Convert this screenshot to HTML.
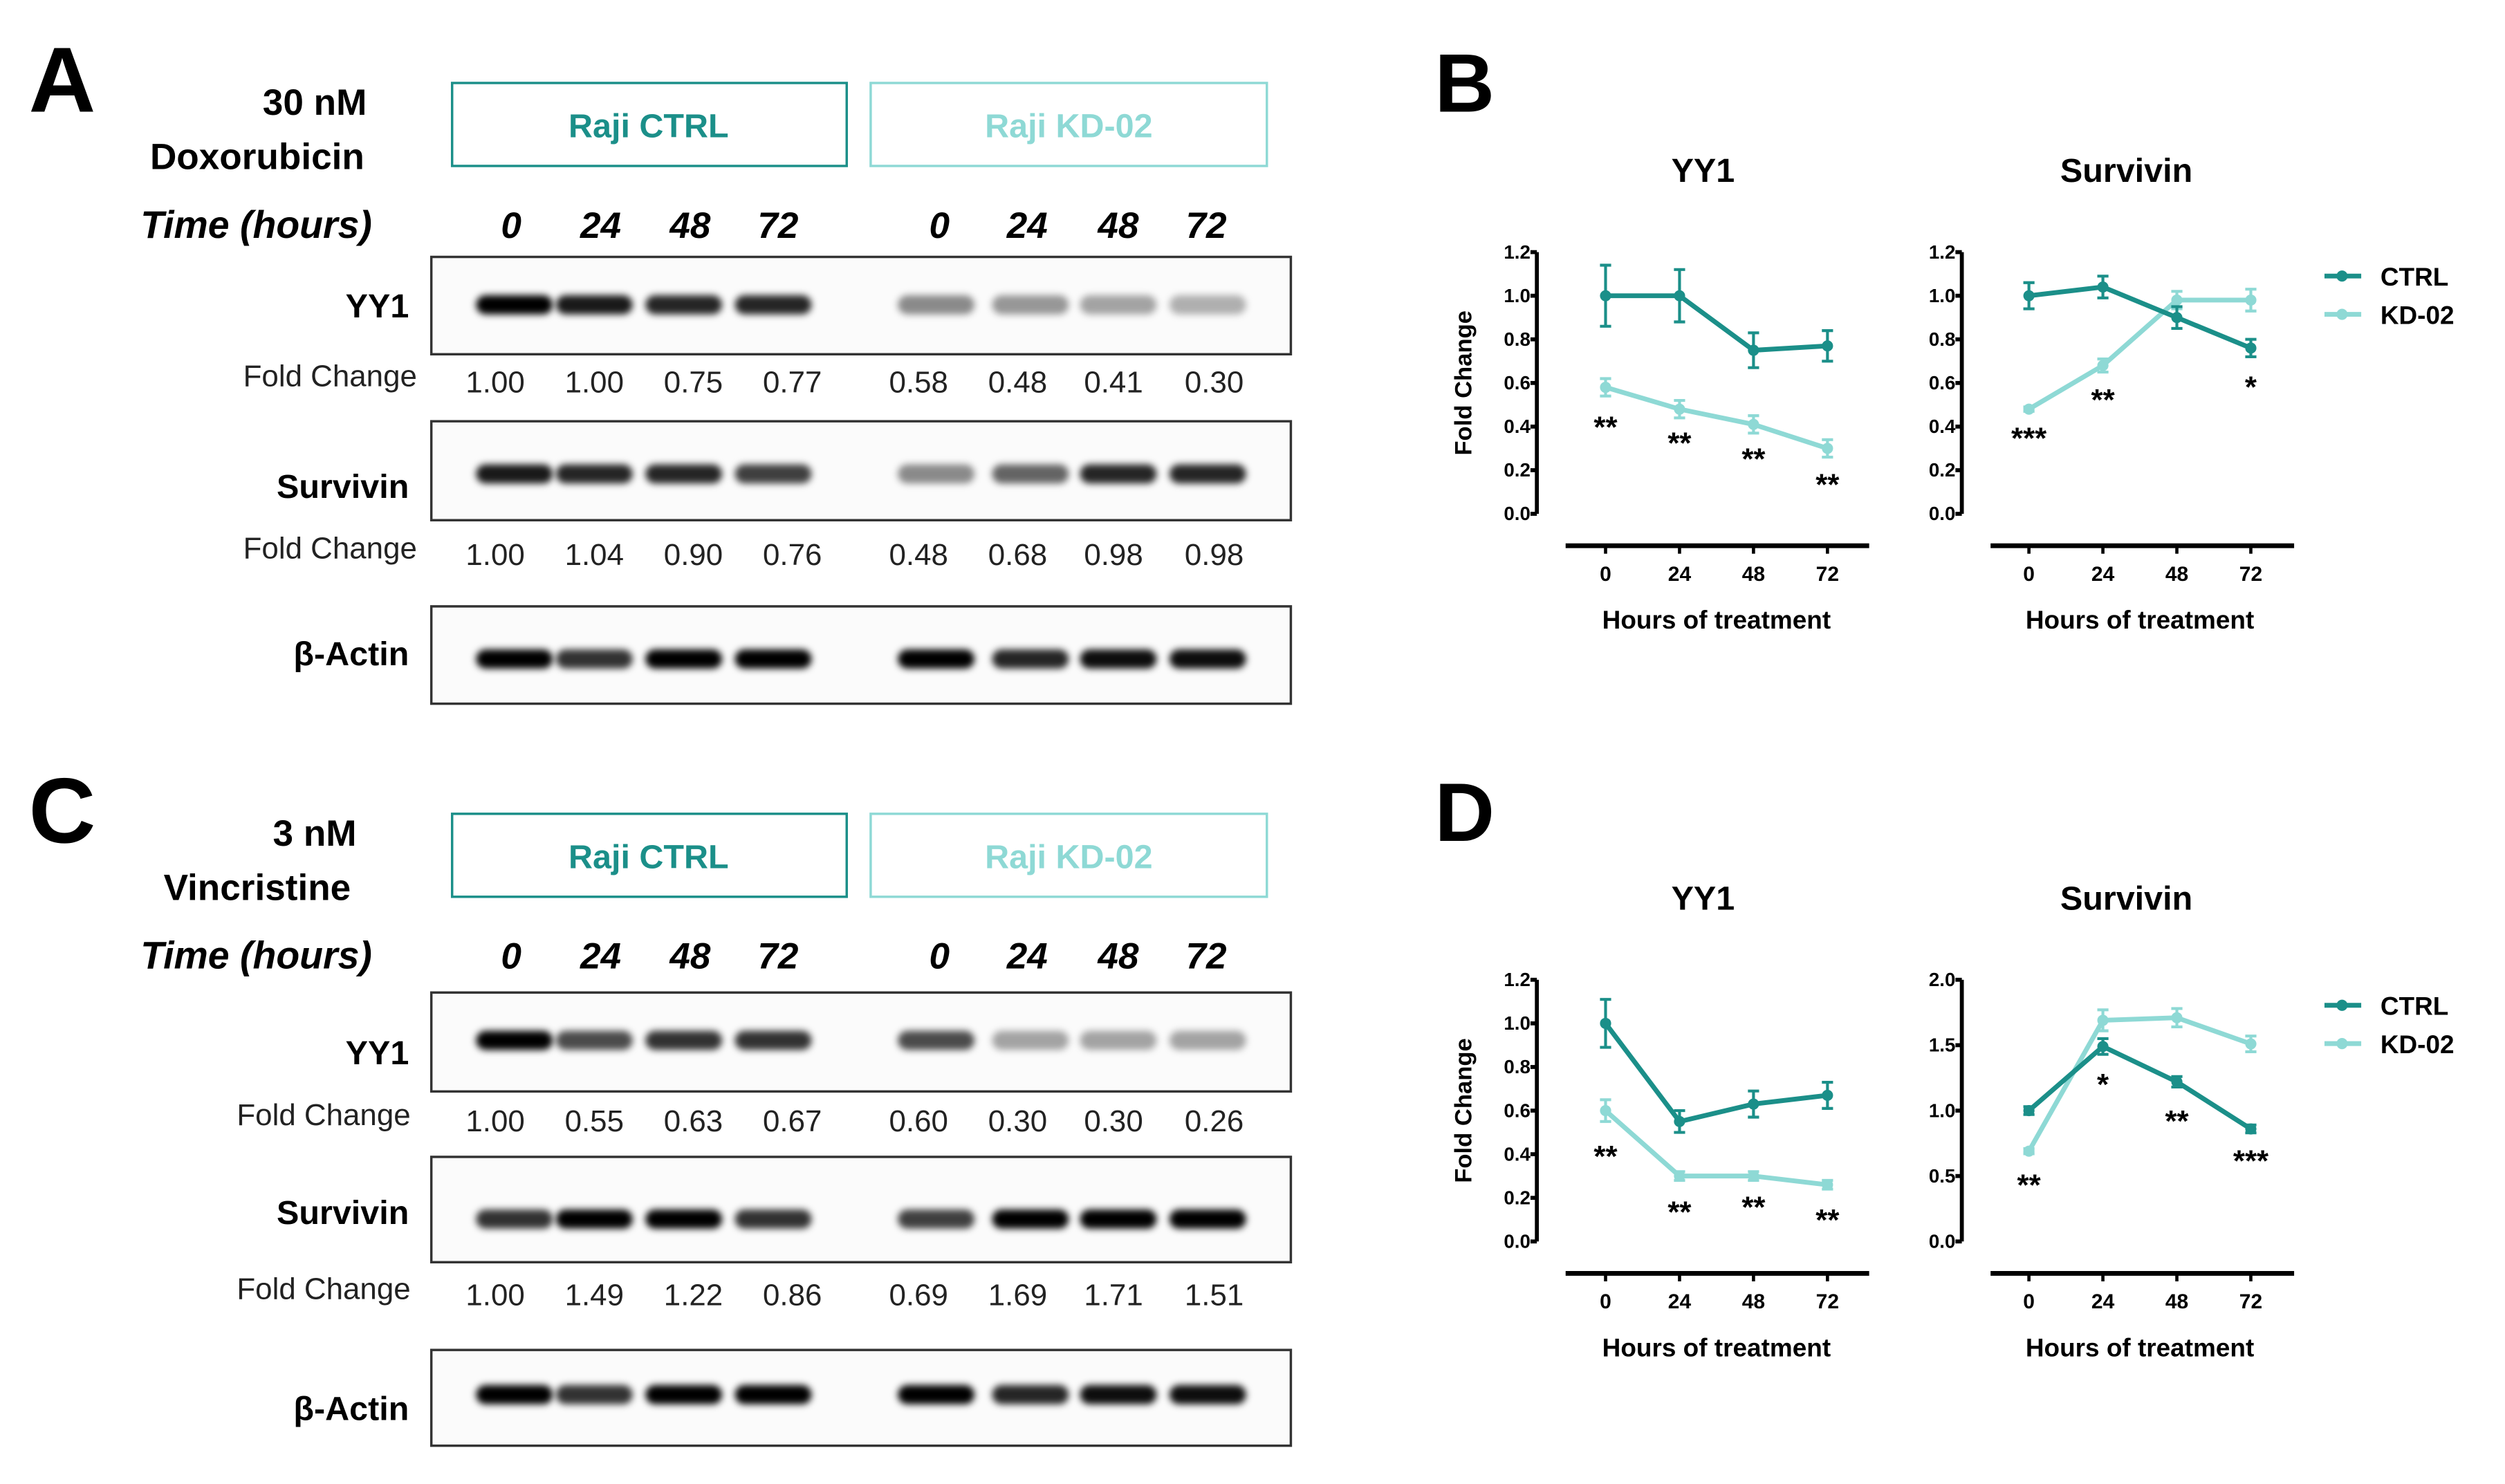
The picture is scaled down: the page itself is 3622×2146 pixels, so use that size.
<!DOCTYPE html>
<html><head><meta charset="utf-8"><style>
html,body{margin:0;padding:0;background:#fff}
svg{display:block}
text{font-family:"Liberation Sans",sans-serif}
</style></head><body>
<svg id="fig" width="3622" height="2146" viewBox="0 0 1568 930" preserveAspectRatio="none" xmlns="http://www.w3.org/2000/svg">
<defs>
<filter id="blur" x="-20%" y="-100%" width="140%" height="300%"><feGaussianBlur stdDeviation="2.2"/></filter>
</defs>
<g id="blots"></g>
<g id="charts"></g>
</svg>
<script>
// ---- chart data ----
const hours = [0, 24, 48, 72];
const bYY1Ctrl = [1.00, 1.00, 0.75, 0.77];
const bYY1CtrlErr = [0.14, 0.12, 0.08, 0.07];
const bYY1Kd = [0.58, 0.48, 0.41, 0.30];
const bYY1KdErr = [0.04, 0.04, 0.04, 0.04];
const bSurvCtrl = [1.00, 1.04, 0.90, 0.76];
const bSurvCtrlErr = [0.06, 0.05, 0.05, 0.04];
const bSurvKd = [0.48, 0.68, 0.98, 0.98];
const bSurvKdErr = [0.01, 0.03, 0.04, 0.05];
const dYY1Ctrl = [1.00, 0.55, 0.63, 0.67];
const dYY1CtrlErr = [0.11, 0.05, 0.06, 0.06];
const dYY1Kd = [0.60, 0.30, 0.30, 0.26];
const dYY1KdErr = [0.05, 0.02, 0.02, 0.02];
const dSurvCtrl = [1.00, 1.49, 1.22, 0.86];
const dSurvCtrlErr = [0.03, 0.06, 0.04, 0.03];
const dSurvKd = [0.69, 1.69, 1.71, 1.51];
const dSurvKdErr = [0.02, 0.08, 0.07, 0.06];
const ticks12 = ["0.0","0.2","0.4","0.6","0.8","1.0","1.2"];
const ticks20 = ["0.0","0.5","1.0","1.5","2.0"];
const bYY1Stars = ["**","**","**","**"];
const bSurvStars = ["***","**","","*"];
const dYY1Stars = ["**","**","**","**"];
const dSurvStars = ["**","*","**","***"];
// blot fold changes
const aYY1Fold = ["1.00","1.00","0.75","0.77","0.58","0.48","0.41","0.30"];
const aSurvFold = ["1.00","1.04","0.90","0.76","0.48","0.68","0.98","0.98"];
const cYY1Fold = ["1.00","0.55","0.63","0.67","0.60","0.30","0.30","0.26"];
const cSurvFold = ["1.00","1.49","1.22","0.86","0.69","1.69","1.71","1.51"];
const aYY1Int = [1,0.9,0.85,0.85,0.45,0.4,0.35,0.3];
const aSurvInt = [0.9,0.85,0.85,0.75,0.45,0.6,0.85,0.85];
const actInt = [1,0.8,1,1,1,0.85,0.95,0.95];
const cYY1Int = [1,0.7,0.8,0.8,0.7,0.35,0.35,0.35];
const cSurvInt = [0.8,1,1,0.8,0.75,1,1,1];

const NS="http://www.w3.org/2000/svg";
const CTRL="#1b8f89", KD="#8ed9d5";
function el(tag, attrs, parent, txt){
  const e=document.createElementNS(NS,tag);
  for(const k in attrs) e.setAttribute(k,attrs[k]);
  if(txt!==undefined) e.textContent=txt;
  parent.appendChild(e); return e;
}
const blots=document.getElementById('blots');
const charts=document.getElementById('charts');

const labelX=[320,376,432,487,588,643,700,755];
const foldX=[310,372,434,496,575,637,697,760];
const laneX=[322,372,428,484,586,645,700,756];
function blotBox(y,h,ints,bandY,name){
  const g=el('g',{},blots);
  
  
  el('rect',{x:270,y:y,width:538,height:h,fill:'#fbfbfb',stroke:'#333','stroke-width':1.5},g);
  ints.forEach((v,i)=>{
    const b=el('rect',{x:laneX[i]-24,y:bandY-6,width:48,height:12,rx:6,fill:`rgba(0,0,0,${v})`,filter:'url(#blur)'},g);
    
    
  });
}
function panel(ofs,letter,l1,l2,rows){
  const L=el('text',{x:18,y:ofs+70,'font-size':58,'font-weight':'bold'},blots,letter);
  
  
  el('text',{x:197,y:ofs+72,'font-size':23,'font-weight':'bold','text-anchor':'middle'},blots,l1);
  el('text',{x:161,y:ofs+106,'font-size':23,'font-weight':'bold','text-anchor':'middle'},blots,l2);
  el('rect',{x:283,y:ofs+52,width:247,height:52,fill:'none',stroke:CTRL,'stroke-width':1.5},blots);
  el('text',{x:406,y:ofs+86,'font-size':21,'font-weight':'bold','text-anchor':'middle',fill:CTRL},blots,'Raji CTRL');
  el('rect',{x:545,y:ofs+52,width:248,height:52,fill:'none',stroke:KD,'stroke-width':1.5},blots);
  el('text',{x:669,y:ofs+86,'font-size':21,'font-weight':'bold','text-anchor':'middle',fill:KD},blots,'Raji KD-02');
  el('text',{x:88,y:ofs+149,'font-size':24,'font-weight':'bold','font-style':'italic'},blots,'Time (hours)');
  ["0","24","48","72","0","24","48","72"].forEach((t,i)=>el('text',{x:labelX[i],y:ofs+149,'font-size':23,'font-weight':'bold','font-style':'italic','text-anchor':'middle'},blots,t));
  rows.forEach(r=>{
    blotBox(r.y,r.h,r.ints,r.band,r.name);
    el('text',{x:256,y:r.ly,'font-size':21,'font-weight':'bold','text-anchor':'end'},blots,r.label);
    if(r.fold){
      el('text',{x:r.fx,y:r.fy,'font-size':19,'text-anchor':'end',fill:'#222'},blots,'Fold Change');
      r.fold.forEach((v,i)=>el('text',{x:foldX[i],y:r.fy+4,'font-size':19,'text-anchor':'middle',fill:'#222'},blots,v));
    }
  });
}
panel(0,'A','30 nM','Doxorubicin',[
  {y:161,h:61,ints:aYY1Int,band:191,label:'YY1',ly:199,name:'blot-a-yy1',fold:aYY1Fold,fy:242,fx:261},
  {y:264,h:62,ints:aSurvInt,band:297,label:'Survivin',ly:312,name:'blot-a-survivin',fold:aSurvFold,fy:350,fx:261},
  {y:380,h:61,ints:actInt,band:413,label:'β-Actin',ly:417,name:'blot-a-actin'}
]);
panel(458,'C','3 nM','Vincristine',[
  {y:622,h:62,ints:cYY1Int,band:652,label:'YY1',ly:667,name:'blot-c-yy1',fold:cYY1Fold,fy:705,fx:257},
  {y:725,h:66,ints:cSurvInt,band:764,label:'Survivin',ly:767,name:'blot-c-survivin',fold:cSurvFold,fy:814,fx:257},
  {y:846,h:60,ints:actInt,band:874,label:'β-Actin',ly:890,name:'blot-c-actin'}
]);

function chart(o){
  const g=el('g',{},charts);
  
  
  const yScale=v=>o.y0-(v/o.ymax)*(o.y0-o.y1);
  const xScale=i=>o.x0+i*46.3;
  el('text',{x:o.tx,y:o.y1-44,'font-size':21,'font-weight':'bold','text-anchor':'middle'},g,o.title);
  el('line',{x1:o.ax,y1:o.y1,x2:o.ax,y2:o.y0,stroke:'#000','stroke-width':2.5},g);
  o.ticks.forEach(t=>{
    const y=yScale(parseFloat(t));
    el('line',{x1:o.ax-4,y1:y,x2:o.ax,y2:y,stroke:'#000','stroke-width':2.5},g);
    el('text',{x:o.ax-4,y:y+4,'font-size':12,'font-weight':'bold','text-anchor':'end'},g,t);
  });
  const xl=o.y0+20;
  el('line',{x1:o.ax+18,y1:xl,x2:o.ax+208,y2:xl,stroke:'#000','stroke-width':3},g);
  hours.forEach((h,i)=>{
    const x=xScale(i);
    el('line',{x1:x,y1:xl,x2:x,y2:xl+5,stroke:'#000','stroke-width':2},g);
    el('text',{x:x,y:xl+22,'font-size':13,'font-weight':'bold','text-anchor':'middle'},g,String(h));
  });
  el('text',{x:xScale(1.5),y:xl+52,'font-size':16,'font-weight':'bold','text-anchor':'middle'},g,'Hours of treatment');
  if(o.ylab){
    const t=el('text',{x:0,y:0,'font-size':15,'font-weight':'bold','text-anchor':'middle',transform:`translate(${o.ax-41},${(o.y0+o.y1)/2}) rotate(-90)`},g,'Fold Change');
    
    
  }
  [[o.kd,o.kdErr,KD,'series-kd02'],[o.ctrl,o.ctrlErr,CTRL,'series-ctrl']].forEach(([vals,errs,col,nm])=>{
    const sg=el('g',{},g);
    
    
    const pts=vals.map((v,i)=>xScale(i)+','+yScale(v)).join(' ');
    el('polyline',{points:pts,fill:'none',stroke:col,'stroke-width':3},sg);
    vals.forEach((v,i)=>{
      const x=xScale(i), yt=yScale(v+errs[i]), yb=yScale(v-errs[i]);
      el('line',{x1:x,y1:yt,x2:x,y2:yb,stroke:col,'stroke-width':1.8},sg);
      el('line',{x1:x-3.5,y1:yt,x2:x+3.5,y2:yt,stroke:col,'stroke-width':1.8},sg);
      el('line',{x1:x-3.5,y1:yb,x2:x+3.5,y2:yb,stroke:col,'stroke-width':1.8},sg);
      const p=el('circle',{cx:x,cy:yScale(v),r:3.5,fill:col},sg);
      
      
    });
  });
  o.stars.forEach((s,i)=>{
    if(!s) return;
    el('text',{x:xScale(i),y:o.starY[i],'font-size':19,'font-weight':'bold','text-anchor':'middle'},g,s);
  });
  if(o.legend){
    const lg=el('g',{},g);
    
    
    [[CTRL,'CTRL',0],[KD,'KD-02',24]].forEach(([c,t,dy])=>{
      const ly=o.legend+dy;
      el('line',{x1:1455,y1:ly,x2:1478,y2:ly,stroke:c,'stroke-width':3},lg);
      el('circle',{cx:1466,cy:ly,r:3.5,fill:c},lg);
      el('text',{x:1490,y:ly+6,'font-size':16,'font-weight':'bold'},lg,t);
    });
  }
}
el('text',{x:898,y:70,'font-size':52,'font-weight':'bold'},charts,'B');
el('text',{x:898,y:527,'font-size':52,'font-weight':'bold'},charts,'D');
chart({name:'chart-b-yy1',title:'YY1',tx:1066,ax:962,x0:1005,y0:322,y1:158,ymax:1.2,ticks:ticks12,ylab:true,
  ctrl:bYY1Ctrl,ctrlErr:bYY1CtrlErr,kd:bYY1Kd,kdErr:bYY1KdErr,stars:bYY1Stars,starY:[274,284,294,310]});
chart({name:'chart-b-survivin',title:'Survivin',tx:1331,ax:1228,x0:1270,y0:322,y1:158,ymax:1.2,ticks:ticks12,
  ctrl:bSurvCtrl,ctrlErr:bSurvCtrlErr,kd:bSurvKd,kdErr:bSurvKdErr,stars:bSurvStars,starY:[281,257,0,249],legend:173});
chart({name:'chart-d-yy1',title:'YY1',tx:1066,ax:962,x0:1005,y0:778,y1:614,ymax:1.2,ticks:ticks12,ylab:true,
  ctrl:dYY1Ctrl,ctrlErr:dYY1CtrlErr,kd:dYY1Kd,kdErr:dYY1KdErr,stars:dYY1Stars,starY:[731,766,763,771]});
chart({name:'chart-d-survivin',title:'Survivin',tx:1331,ax:1228,x0:1270,y0:778,y1:614,ymax:2.0,ticks:ticks20,
  ctrl:dSurvCtrl,ctrlErr:dSurvCtrlErr,kd:dSurvKd,kdErr:dSurvKdErr,stars:dSurvStars,starY:[749,686,709,734],legend:630});
</script>
</body></html>
